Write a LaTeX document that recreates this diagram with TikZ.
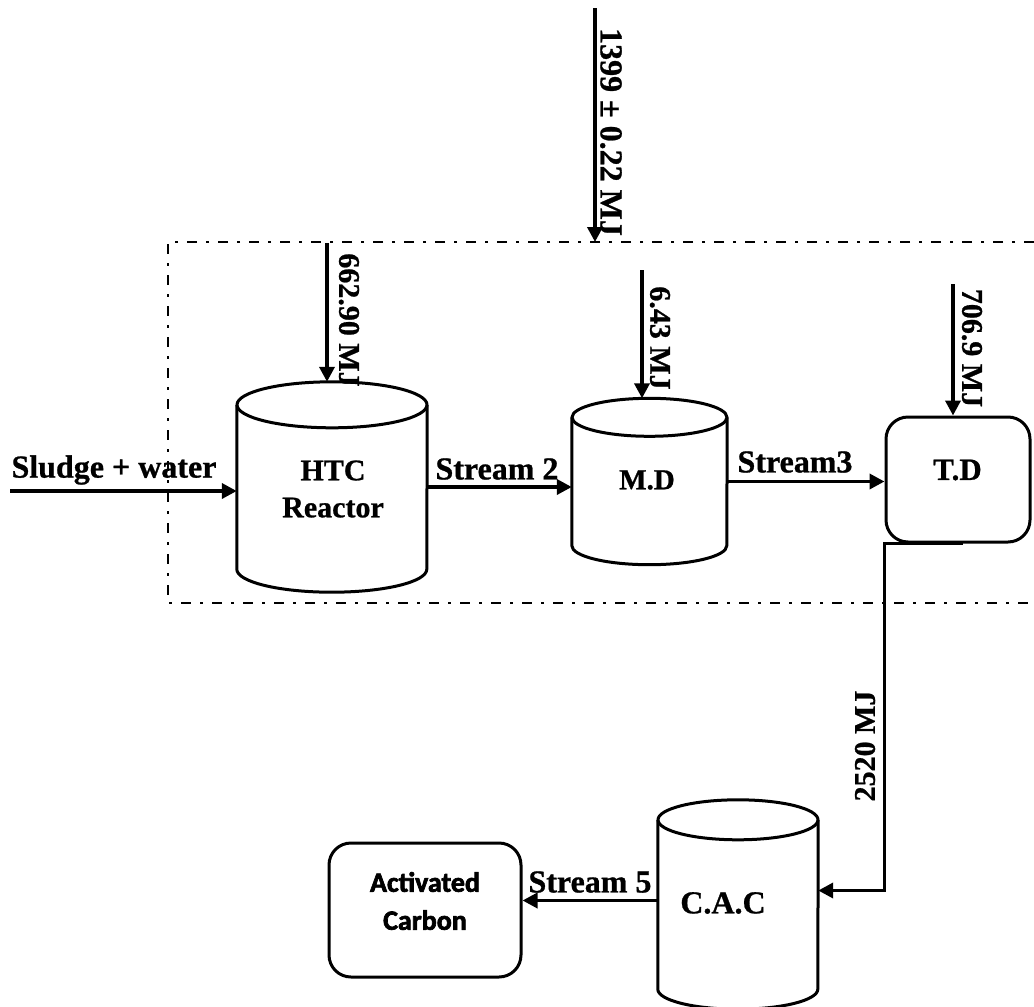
\documentclass[tikz,border=0pt]{standalone}
\usepackage{fontspec}
\setmainfont{Liberation Serif}[BoldFeatures={FakeBold=0.8}]
\newfontfamily\actfont{Carlito}[BoldFeatures={FakeBold=2.4}]
\usetikzlibrary{arrows.meta,calc}
\tikzset{
 flow/.style={line width=3.6pt, -{Triangle[length=15pt,width=15pt]}},
 outline/.style={line width=3pt, line join=round},
 boundary/.style={line width=2.8pt, dash pattern=on 10pt off 9pt on 3pt off 9pt},
 lbl/.style={font=\fontsize{32}{36}\selectfont\bfseries, inner sep=0pt},
 vlbl/.style={font=\fontsize{30}{32}\selectfont\bfseries, inner sep=0pt},
 unit/.style={inner sep=0pt, align=center, font=\fontsize{30}{37}\selectfont\bfseries},
 roundbox/.style={draw, outline, rounded corners=22pt, inner sep=0pt},
}
\newcommand\drawcyl[3]{%
 \draw[outline] ([yshift=-#3]#1.north west) -- ([yshift=#3]#1.south west)
   arc[start angle=180,end angle=360,x radius=#2,y radius=#3] -- ([yshift=-#3]#1.north east);
 \draw[outline] ([yshift=-#3]#1.north) ellipse[x radius=#2, y radius=#3];
}
\begin{document}
\begin{tikzpicture}[x=1pt,y=-1pt]
\useasboundingbox (0,0) rectangle (1034,1007);
\draw[boundary] (1034,242) -- (168,242) -- (168,603) -- (1034,603);

% units
\node[inner sep=0pt, minimum width=190pt, minimum height=210pt] (htc) at (332,487) {};
\drawcyl{htc}{95pt}{23pt}
\node[unit] (htctext) at (333,489) {HTC\\Reactor};
\node[inner sep=0pt, minimum width=155pt, minimum height=166pt] (md) at (649.5,481.5) {};
\drawcyl{md}{77.5pt}{19pt}
\node[unit, font=\fontsize{29}{36}\selectfont\bfseries] (mdtext) at (647,480) {M.D};
\node[roundbox, minimum width=144pt, minimum height=125pt] (td) at (958,479.5) {};
\node[unit, font=\fontsize{31}{36}\selectfont\bfseries] (tdtext) at (957.5,470) {T.D};
\node[inner sep=0pt, minimum width=160pt, minimum height=209pt] (cac) at (738,904.5) {};
\drawcyl{cac}{80pt}{20pt}
\node[unit, font=\fontsize{32}{36}\selectfont\bfseries] (cactext) at (723,903) {C.A.C};
\node[roundbox, minimum width=192pt, minimum height=134pt] (act) at (425,910) {};
\node[inner sep=0pt, align=center, font=\actfont\fontsize{28}{38}\selectfont\bfseries] (acttext) at ([yshift=9pt]act.center) {Activated\\Carbon};

% energy inputs
\coordinate (e0) at (595,8);
\coordinate (bnd) at (595,242);
\draw[flow] (e0) -- (bnd);
\node[vlbl, font=\fontsize{32}{34}\selectfont\bfseries, rotate=-90] (l1399) at (611,132) {1399 ± 0.22 MJ};

\coordinate (e1) at (327,243);
\draw[flow] (e1) -- (e1 |- htc.north);
\node[vlbl, rotate=-90] (l662) at (349,320) {662.90 MJ};

\coordinate (e2) at (642,270);
\draw[flow] (e2) -- (e2 |- md.north);
\node[vlbl, rotate=-90] (l643) at (660,338) {6.43 MJ};

\coordinate (e3) at (953,284);
\draw[flow] (e3) -- (e3 |- td.north);
\node[vlbl, rotate=-90] (l706) at (972,348) {706.9 MJ};

% streams
\coordinate (in) at (10,491);
\draw[flow] (in) -- (in -| htc.west);
\node[lbl] (lsludge) at (114,470) {Sludge + water};

\draw[flow] (htc.east) -- (htc.east -| md.west);
\node[lbl] (ls2) at (497,469) {Stream 2};

\draw[flow] (md.east) -- (md.east -| td.west);
\node[lbl] (ls3) at (795,462) {Stream3};

\draw[flow] ([xshift=5pt]td.south) -- (td.south west) |- ([yshift=14pt]cac.east);
\node[vlbl, rotate=90] (l2520) at (865,746) {2520 MJ};

\draw[flow] ([yshift=4pt]cac.west) -- ([yshift=4pt]cac.west -| act.east);
\node[lbl] (ls5) at (590,882) {Stream 5};
\end{tikzpicture}
\end{document}
